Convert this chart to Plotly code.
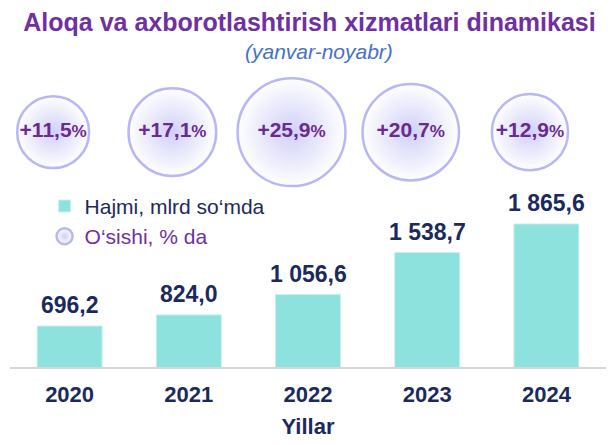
import plotly.graph_objects as go

# ---- data ----
years = ["2020", "2021", "2022", "2023", "2024"]
volume = [696.2, 824.0, 1056.6, 1538.7, 1865.6]      # Hajmi, mlrd so'mda
growth = [11.5, 17.1, 25.9, 20.7, 12.9]              # O'sishi, % da

title_text = "Aloqa va axborotlashtirish xizmatlari dinamikasi"
subtitle_text = "(yanvar-noyabr)"
bar_name = "Hajmi, mlrd so‘mda"
bubble_name = "O‘sishi, % da"
axis_title = "Yillar"

FONT = "Liberation Sans, Arial, sans-serif"
NAVY = "#1b2a5c"
PURPLE = "#7030a0"


def fmt(v):
    return f"{v:,.1f}".replace(",", " ").replace(".", ",")


fig = go.Figure()

fig.add_trace(go.Bar(
    x=years, y=volume, name=bar_name,
    marker=dict(color="#8ee2dd", line=dict(color="#c6f1ee", width=1)),
    hoverinfo="skip",
))

fig.add_trace(go.Scatter(
    x=years, y=[0.77] * len(years), xaxis="x2", yaxis="y2",
    mode="markers+text", name=f"<span style='color:{PURPLE}'>{bubble_name}</span>",
    marker=dict(size=growth, sizemode="area", sizeref=0.00445,
                color="white",
                gradient=dict(type="radial", color="#bdbdf7"),
                line=dict(color="#9a9af2", width=2.5)),
    text=[f"+{fmt(g)}<span style='font-size:17px'>%</span>" for g in growth],
    textposition="middle center",
    textfont=dict(family=FONT, size=21, color="#6a2a8e", weight="bold"),
    hoverinfo="skip", cliponaxis=False,
))

annotations = [
    dict(x=i, y=v, xref="x", yref="y", text=fmt(v), showarrow=False,
         yanchor="bottom", yshift=6,
         font=dict(family=FONT, size=23, color=NAVY, weight="bold"))
    for i, v in enumerate(volume)
]
annotations.append(dict(
    x=0.518, y=1.033, xref="paper", yref="paper", text=f"<i>{subtitle_text}</i>",
    showarrow=False, xanchor="center", yanchor="middle",
    font=dict(family=FONT, size=21, color="#4472c4")))

# the page body adds an 8px margin; the figure is sized to fit the 614x445 window
fig.update_layout(
    width=606, height=437,
    margin=dict(l=2, r=8, t=54, b=78),
    paper_bgcolor="white", plot_bgcolor="white",
    title=dict(text=title_text, x=0.4975, xanchor="center", y=0.967, yanchor="middle",
               font=dict(family=FONT, size=25, color=PURPLE, weight="bold")),
    bargap=0.455,
    showlegend=True,
    legend=dict(x=0.058, y=0.594, xanchor="left", yanchor="top",
                bgcolor="rgba(0,0,0,0)",
                font=dict(family=FONT, size=21, color=NAVY),
                traceorder="normal"),
    xaxis=dict(type="category", range=[-0.5, 4.5], showgrid=False, zeroline=False,
               showline=True, linecolor="#d6d6d6", linewidth=2, ticks="",
               ticklabelstandoff=7,
               tickfont=dict(family=FONT, size=22, color=NAVY, weight="bold"),
               title=dict(text=axis_title, standoff=12,
                          font=dict(family=FONT, size=22, color=NAVY, weight="bold")),
               automargin=False, fixedrange=True),
    yaxis=dict(range=[227, 3721], visible=False, showgrid=False, zeroline=False,
               fixedrange=True),
    xaxis2=dict(type="category", overlaying="x", categoryarray=years,
                range=[-0.5 + 0.138, 4.5 + 0.138], visible=False, anchor="y2"),
    yaxis2=dict(overlaying="y", range=[0, 1], visible=False, anchor="x2"),
    annotations=annotations,
    hovermode=False,
)

fig.write_html("out.html")
